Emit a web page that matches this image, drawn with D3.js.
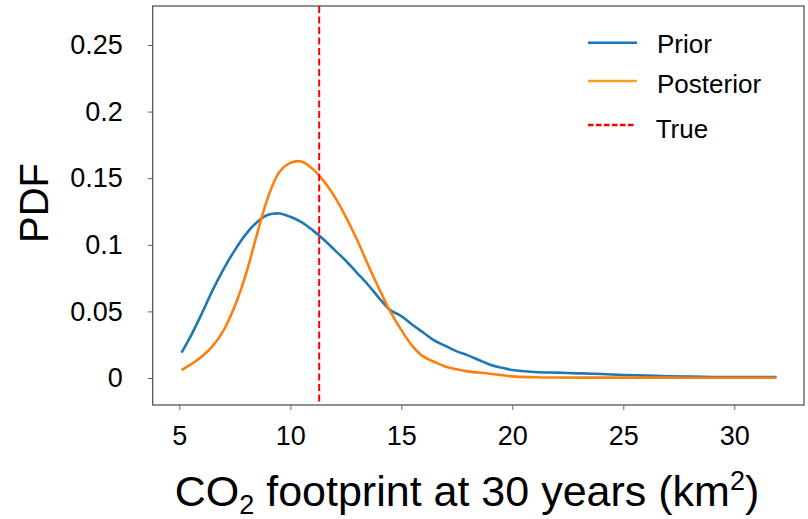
<!DOCTYPE html>
<html>
<head>
<meta charset="utf-8">
<script src="https://cdn.jsdelivr.net/npm/d3@7"></script>
<style>
  html, body { margin: 0; padding: 0; background: #fff; }
  svg { display: block; font-family: "Liberation Sans", Arial, sans-serif; }
</style>
</head>
<body>
<svg id="chart" width="808" height="519"></svg>
<script>
// ---- data ----
const priorX = [5.1, 5.5, 6, 6.5, 7, 7.5, 8, 8.5, 9, 9.5, 10, 10.5, 11, 11.5, 12, 12.5, 13, 13.5, 14, 14.5, 15, 15.5, 16, 16.5, 17, 17.5, 18, 18.5, 19, 19.5, 20, 21, 22, 23, 24, 25, 26, 27, 28, 29, 30, 31, 31.9];
const priorY = [0.019, 0.031, 0.048, 0.066, 0.082, 0.096, 0.108, 0.117, 0.1225, 0.1235, 0.121, 0.117, 0.111, 0.104, 0.096, 0.088, 0.079, 0.070, 0.060, 0.051, 0.0465, 0.040, 0.034, 0.028, 0.024, 0.020, 0.017, 0.0135, 0.010, 0.0078, 0.006, 0.0045, 0.004, 0.0035, 0.003, 0.0023, 0.0018, 0.0013, 0.001, 0.0008, 0.0007, 0.0007, 0.0007];
const postX = [5.1, 5.5, 6, 6.5, 7, 7.5, 8, 8.5, 9, 9.5, 10, 10.5, 11, 11.5, 12, 12.5, 13, 13.5, 14, 14.5, 15, 15.5, 16, 16.5, 17, 17.5, 18, 19, 20, 21, 22, 24, 26, 28, 30, 31.9];
const postY = [0.006, 0.010, 0.016, 0.024, 0.036, 0.054, 0.078, 0.108, 0.136, 0.1545, 0.1615, 0.1625, 0.157, 0.148, 0.136, 0.121, 0.104, 0.085, 0.067, 0.050, 0.036, 0.024, 0.016, 0.012, 0.0085, 0.0065, 0.005, 0.0032, 0.0012, 0.0006, 0.0004, 0.0003, 0.0003, 0.0002, 0.0002, 0.0002];
const trueValue = 11.3;
const xTicks = [5, 10, 15, 20, 25, 30];
const yTicks = [0, 0.05, 0.1, 0.15, 0.2, 0.25];
const yTickLabels = ["0", "0.05", "0.1", "0.15", "0.2", "0.25"];
const legendLabels = ["Prior", "Posterior", "True"];

// ---- layout ----
const svg = d3.select("#chart");
const L = 152.7, R = 804, T = 6, B = 405;
const x = d3.scaleLinear().domain([3.8, 33.14]).range([L, R]);
const y = d3.scaleLinear().domain([0, 0.25]).range([378, 45]);

const blue = "#1f77b4", orange = "#ff7f0e";

// curves
const line = d3.line().x(d => x(d[0])).y(d => y(d[1])).curve(d3.curveCatmullRom.alpha(0.5));
const g = svg.append("g");
g.append("path").datum(priorX.map((v, i) => [v, priorY[i]]))
  .attr("d", line).attr("fill", "none").attr("stroke", blue).attr("stroke-width", 2.6);
g.append("path").datum(postX.map((v, i) => [v, postY[i]]))
  .attr("d", line).attr("fill", "none").attr("stroke", orange).attr("stroke-width", 2.6);

// true line
g.append("line").attr("x1", x(trueValue)).attr("x2", x(trueValue))
  .attr("y1", T).attr("y2", B)
  .attr("stroke", "#ff0000").attr("stroke-width", 2).attr("stroke-dasharray", "7,3.5");

// box
svg.append("rect").attr("x", L).attr("y", T).attr("width", R - L).attr("height", B - T)
  .attr("fill", "none").attr("stroke", "#555").attr("stroke-width", 1.3);

// axes
const xAxis = d3.axisBottom(x).tickValues(xTicks).tickSize(5).tickPadding(16).tickFormat(d3.format("d"));
const xg = svg.append("g").attr("transform", `translate(0,${B})`).call(xAxis);
xg.select(".domain").remove();
xg.selectAll(".tick line").attr("stroke", "#666");
xg.selectAll(".tick text").attr("font-size", 27).attr("fill", "#000")
  .attr("font-family", "Liberation Sans, Arial, sans-serif");

const yAxis = d3.axisLeft(y).tickValues(yTicks).tickSize(5).tickPadding(25)
  .tickFormat((d, i) => yTickLabels[i]);
const yg = svg.append("g").attr("transform", `translate(${L},0)`).call(yAxis);
yg.select(".domain").remove();
yg.selectAll(".tick line").attr("stroke", "#666");
yg.selectAll(".tick text").attr("font-size", 27).attr("fill", "#000")
  .attr("font-family", "Liberation Sans, Arial, sans-serif");

// axis titles
const xt = svg.append("text").attr("x", 467).attr("y", 506).attr("text-anchor", "middle")
  .attr("font-size", 43).attr("fill", "#000");
xt.append("tspan").text("CO");
xt.append("tspan").text("2").attr("font-size", 27).attr("dy", 8);
xt.append("tspan").text(" footprint at 30 years (km").attr("dy", -8);
xt.append("tspan").text("2").attr("font-size", 27).attr("dy", -16);
xt.append("tspan").text(")").attr("dy", 16);

svg.append("text").attr("transform", "translate(48,203) rotate(-90)")
  .attr("text-anchor", "middle").attr("font-size", 40).attr("fill", "#000").text("PDF");

// legend
const legY = [42.7, 81, 125];
const legTextY = [53.3, 92.7, 138];
const legTextX = [657, 657, 655.7];
const legColors = ["#1a75c4", "#ffa01a", "#ff0000"];
const lg = svg.append("g");
legendLabels.forEach((lab, i) => {
  lg.append("line").attr("x1", 588).attr("x2", i === 2 ? 635 : 637)
    .attr("y1", legY[i]).attr("y2", legY[i])
    .attr("stroke", legColors[i]).attr("stroke-width", 2.4)
    .attr("stroke-dasharray", i === 2 ? "5.5,2.5" : null);
  lg.append("text").attr("x", legTextX[i]).attr("y", legTextY[i])
    .attr("font-size", 26).attr("fill", "#000").text(lab);
});
</script>
</body>
</html>
